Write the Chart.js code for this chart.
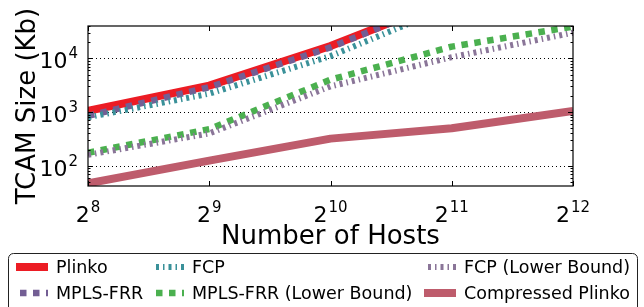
<!DOCTYPE html>
<html lang="en">
<head>
<meta charset="UTF-8">
<title>TCAM Size vs Number of Hosts</title>
<script src="https://cdn.jsdelivr.net/npm/chart.js"></script>
<style>
    html, body { margin: 0; background: #fff; }
    .wrap { width: 644px; height: 307px; position: relative; }
</style>
</head>
<body>
<div class="wrap"><canvas id="tcamChart"></canvas></div>
<script>
// values (x = number of hosts, y = TCAM size in Kb)
const hosts = [256, 512, 1024, 2048, 4096];
const xTickExps = [8, 9, 10, 11, 12];
const yTickExps = [2, 3, 4];

const plinko       = [1050, 3100, 17000, 130000, 1000000];
const mplsFrr      = [850, 2900, 16000, 130000, 1000000];
const fcp          = [800, 2200, 11000, 95000, 800000];
const mplsFrrLower = [175, 480, 4000, 16500, 39000];
const fcpLower     = [160, 400, 3000, 10500, 30000];
const compressed   = [47, 125, 320, 500, 1050];

const FONT = '"DejaVu Sans", "Liberation Sans", sans-serif';

function pts(arr) {
    return arr.map((v, i) => ({ x: hosts[i], y: v }));
}

function line(label, data, color, width, dash, order) {
    return {
        label: label,
        data: pts(data),
        borderColor: color,
        backgroundColor: color,
        borderWidth: width,
        borderDash: dash,
        borderCapStyle: 'butt',
        borderJoinStyle: 'round',
        pointRadius: 0,
        tension: 0,
        fill: false,
        clip: 0,
        order: order
    };
}

const datasets = [
    line('Plinko', plinko, '#ec1c24', 8, [], 6),
    line('MPLS-FRR', mplsFrr, '#735e94', 6.5, [6.5, 6.5], 5),
    line('FCP', fcp, '#3a9199', 6, [3, 4, 1.5, 4], 4),
    line('MPLS-FRR (Lower Bound)', mplsFrrLower, '#4bb04f', 6.5, [6.5, 6.5], 3),
    line('FCP (Lower Bound)', fcpLower, '#8a7598', 6, [3, 4, 1.5, 4], 2),
    line('Compressed Plinko', compressed, '#be5c6c', 8, [], 1)
];

// draws "base^exp" centred (align='center') or right aligned at x
function powerText(ctx, base, exp, x, y, align) {
    ctx.font = '22px ' + FONT;
    const wb = ctx.measureText(base).width;
    ctx.font = '15px ' + FONT;
    const we = ctx.measureText(String(exp)).width;
    const total = wb + we + 1;
    let x0 = align === 'right' ? x - total : x - total / 2;
    ctx.textAlign = 'left';
    ctx.textBaseline = 'alphabetic';
    ctx.font = '22px ' + FONT;
    ctx.fillText(base, x0, y);
    ctx.font = '15px ' + FONT;
    ctx.fillText(String(exp), x0 + wb + 1, y - 10);
}

const decor = {
    id: 'decor',
    beforeDatasetsDraw(chart) {
        const { ctx, chartArea: a, scales: { y } } = chart;
        ctx.save();
        ctx.strokeStyle = '#000';
        ctx.lineWidth = 1;
        ctx.setLineDash([1, 3]);
        yTickExps.forEach(e => {
            const py = Math.round(y.getPixelForValue(Math.pow(10, e))) + 0.5;
            ctx.beginPath();
            ctx.moveTo(a.left, py);
            ctx.lineTo(a.right, py);
            ctx.stroke();
        });
        ctx.restore();
    },
    afterDraw(chart) {
        const { ctx, chartArea: a, scales: { x, y } } = chart;
        ctx.save();
        ctx.fillStyle = '#000';
        ctx.strokeStyle = '#000';

        // frame
        ctx.lineWidth = 1.2;
        ctx.strokeRect(a.left, a.top, a.right - a.left, a.bottom - a.top);

        // ticks, pointing inward
        ctx.lineWidth = 1;
        ctx.beginPath();
        xTickExps.forEach(e => {
            const px = Math.round(x.getPixelForValue(Math.pow(2, e))) + 0.5;
            ctx.moveTo(px, a.bottom); ctx.lineTo(px, a.bottom - 5);
            ctx.moveTo(px, a.top); ctx.lineTo(px, a.top + 5);
        });
        for (let e = 1; e <= 4; e++) {
            for (let m = 1; m <= 9; m++) {
                const v = m * Math.pow(10, e);
                if (v < y.min || v > y.max) continue;
                const py = Math.round(y.getPixelForValue(v)) + 0.5;
                const len = m === 1 ? 5 : 2.5;
                ctx.moveTo(a.left, py); ctx.lineTo(a.left + len, py);
                ctx.moveTo(a.right, py); ctx.lineTo(a.right - len, py);
            }
        }
        ctx.stroke();

        // tick labels
        xTickExps.forEach(e => {
            powerText(ctx, '2', e, x.getPixelForValue(Math.pow(2, e)), a.bottom + 36, 'center');
        });
        yTickExps.forEach(e => {
            powerText(ctx, '10', e, a.left - 10, y.getPixelForValue(Math.pow(10, e)) + 10, 'right');
        });

        // axis titles
        ctx.font = '26px ' + FONT;
        ctx.textAlign = 'center';
        ctx.textBaseline = 'alphabetic';
        ctx.fillText('Number of Hosts', (a.left + a.right) / 2, 244);
        ctx.save();
        ctx.translate(35, (a.top + a.bottom) / 2);
        ctx.rotate(-Math.PI / 2);
        ctx.fillText('TCAM Size (Kb)', 0, 0);
        ctx.restore();

        // legend box
        ctx.lineWidth = 1;
        ctx.strokeStyle = '#222';
        ctx.fillStyle = '#fff';
        ctx.beginPath();
        ctx.roundRect(8.5, 253.5, 629, 62, 5);
        ctx.fill();
        ctx.stroke();

        const colSample = [16, 152, 424];
        const colText = [56, 192, 464];
        const rowY = [267, 293];
        chart.data.datasets.forEach((ds, i) => {
            const col = Math.floor(i / 2), row = i % 2;
            const yy = rowY[row];
            ctx.save();
            ctx.strokeStyle = ds.borderColor;
            ctx.lineWidth = ds.borderWidth;
            ctx.lineCap = 'butt';
            ctx.setLineDash(ds.borderDash);
            ctx.lineDashOffset = ds.borderDash.length ? -4 : 0;
            ctx.beginPath();
            ctx.moveTo(colSample[col], yy);
            ctx.lineTo(colSample[col] + 32, yy);
            ctx.stroke();
            ctx.restore();
            ctx.fillStyle = '#000';
            ctx.font = '17.5px ' + FONT;
            ctx.textAlign = 'left';
            ctx.textBaseline = 'middle';
            ctx.fillText(ds.label, colText[col], yy + 1);
        });
        ctx.restore();
    }
};

const chart = new Chart(document.getElementById('tcamChart').getContext('2d'), {
    type: 'line',
    data: { datasets: datasets },
    options: {
        responsive: true,
        maintainAspectRatio: false,
        animation: false,
        layout: { padding: { top: 26, right: 71, left: 0, bottom: 0 } },
        plugins: { legend: { display: false }, tooltip: { enabled: false } },
        scales: {
            x: {
                type: 'logarithmic',
                min: 256,
                max: 4096,
                grid: { display: false },
                border: { display: false },
                ticks: { display: false },
                afterFit: s => { s.height = 121; }
            },
            y: {
                type: 'logarithmic',
                min: 42,
                max: 40000,
                grid: { display: false },
                border: { display: false },
                ticks: { display: false },
                afterFit: s => { s.width = 88; }
            }
        }
    },
    plugins: [decor]
});
</script>
</body>
</html>
